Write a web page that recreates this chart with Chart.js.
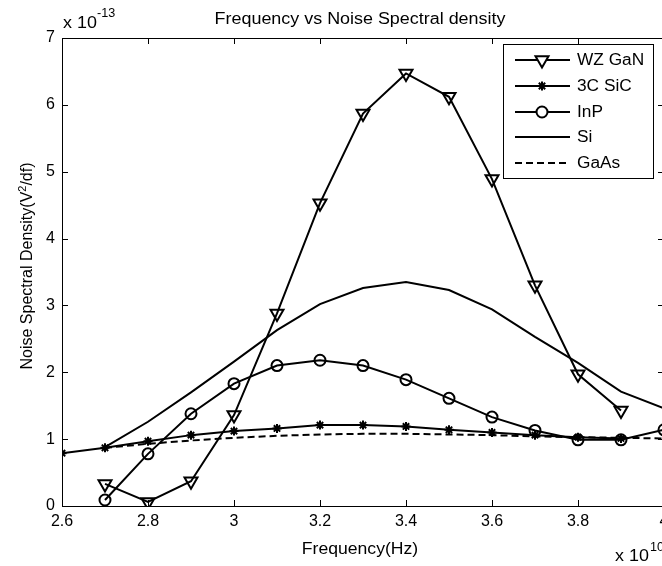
<!DOCTYPE html>
<html lang="en">
<head>
    <meta charset="UTF-8">
    <title>Frequency vs Noise Spectral density</title>
    <style>
        html, body {
            margin: 0;
            padding: 0;
            background: #ffffff;
            overflow: hidden;
        }
        #noiseChart {
            display: block;
        }
    </style>
</head>
<body>
<canvas id="noiseChart" width="680" height="566"></canvas>

<script src="https://cdn.jsdelivr.net/npm/chart.js"></script>
<script>
    // frequency in units of 1e10 Hz, values in units of 1e-13 V^2/df
    const freq = [2.6, 2.7, 2.8, 2.9, 3.0, 3.1, 3.2, 3.3, 3.4, 3.5, 3.6, 3.7, 3.8, 3.9, 4.0];

    const wzGaN = [null, 0.33, 0.06, 0.37, 1.36, 2.88, 4.53, 5.87, 6.47, 6.12, 4.89, 3.30, 1.97, 1.43, null];
    const sic3C = [0.79, 0.87, 0.97, 1.06, 1.12, 1.16, 1.21, 1.21, 1.19, 1.14, 1.10, 1.06, 1.03, 1.01, null];
    const inP = [null, 0.09, 0.78, 1.38, 1.83, 2.10, 2.18, 2.10, 1.89, 1.61, 1.33, 1.13, 0.99, 0.99, 1.14];
    const si = [null, 0.88, 1.26, 1.70, 2.16, 2.63, 3.02, 3.26, 3.35, 3.23, 2.94, 2.53, 2.14, 1.71, 1.46];
    const gaAs = [null, 0.87, 0.93, 0.98, 1.02, 1.05, 1.07, 1.08, 1.08, 1.07, 1.06, 1.04, 1.03, 1.02, 1.01];

    const xTicks = [2.6, 2.8, 3.0, 3.2, 3.4, 3.6, 3.8, 4.0];
    const yTicks = [0, 1, 2, 3, 4, 5, 6, 7];

    const FONT = 'Arial, "Liberation Sans", sans-serif';

    function toPoints(values) {
        return freq.map((f, i) => ({ x: f, y: values[i] })).filter(p => p.y !== null);
    }

    // the original figure text is a bit wider than plain Arial
    function wideText(ctx, str, x, y, size, align, stretch) {
        ctx.save();
        ctx.font = size + 'px ' + FONT;
        const w = ctx.measureText(str).width * stretch;
        let left = x;
        if (align === 'center') left = x - w / 2;
        if (align === 'right') left = x - w;
        ctx.translate(left, y);
        ctx.scale(stretch, 1);
        ctx.textAlign = 'left';
        ctx.fillText(str, 0, 0);
        ctx.restore();
    }

    const clear = 'rgba(0,0,0,0)';
    const series = [
        { label: 'WZ GaN', data: wzGaN, pointStyle: 'triangle', rotation: 180, radius: 7.5, dash: [] },
        { label: '3C SiC', data: sic3C, pointStyle: 'star', rotation: 0, radius: 4.5, dash: [] },
        { label: 'InP', data: inP, pointStyle: 'circle', rotation: 0, radius: 5.5, dash: [] },
        { label: 'Si', data: si, pointStyle: false, rotation: 0, radius: 0, dash: [] },
        { label: 'GaAs', data: gaAs, pointStyle: false, rotation: 0, radius: 0, dash: [7, 4] }
    ];

    // box, inward ticks, texts and legend the way the original figure looks
    const figurePlugin = {
        id: 'figure',
        afterDraw(chart) {
            const ctx = chart.ctx;
            const a = chart.chartArea;
            const xs = chart.scales.x;
            const ys = chart.scales.y;
            ctx.save();
            ctx.strokeStyle = '#000';
            ctx.lineWidth = 1;
            ctx.strokeRect(a.left + 0.5, a.top + 0.5, a.right - a.left, a.bottom - a.top);

            ctx.beginPath();
            xTicks.forEach(v => {
                const px = Math.round(xs.getPixelForValue(v)) + 0.5;
                ctx.moveTo(px, a.bottom); ctx.lineTo(px, a.bottom - 6);
                ctx.moveTo(px, a.top); ctx.lineTo(px, a.top + 6);
            });
            yTicks.forEach(v => {
                const py = Math.round(ys.getPixelForValue(v)) + 0.5;
                ctx.moveTo(a.left, py); ctx.lineTo(a.left + 6, py);
                ctx.moveTo(a.right, py); ctx.lineTo(a.right - 6, py);
            });
            ctx.stroke();

            ctx.fillStyle = '#000';
            ctx.textBaseline = 'alphabetic';
            wideText(ctx, 'Frequency vs Noise Spectral density', 360, 24, 16, 'center', 1.12);
            wideText(ctx, 'Frequency(Hz)', 360, 554, 16, 'center', 1.1);
            wideText(ctx, 'x 10', 63, 28, 16, 'left', 1.12);
            wideText(ctx, 'x 10', 615, 561, 16, 'left', 1.12);
            wideText(ctx, '-13', 97, 17, 12, 'left', 1.05);
            wideText(ctx, '10', 650, 551, 12, 'left', 1.05);

            // rotated y title
            ctx.save();
            ctx.translate(32, 266);
            ctx.rotate(-Math.PI / 2);
            const t1 = 'Noise Spectral Density(V';
            const t2 = '/df)';
            ctx.font = '16px ' + FONT;
            const w1 = ctx.measureText(t1).width;
            const w2 = ctx.measureText(t2).width;
            ctx.font = '11px ' + FONT;
            const wSup = ctx.measureText('2').width;
            const sx = -(w1 + wSup + w2) / 2;
            ctx.textAlign = 'left';
            ctx.font = '16px ' + FONT;
            ctx.fillText(t1, sx, 0);
            ctx.font = '11px ' + FONT;
            ctx.fillText('2', sx + w1, -6);
            ctx.font = '16px ' + FONT;
            ctx.fillText(t2, sx + w1 + wSup, 0);
            ctx.restore();

            // legend
            const box = { x: 503.5, y: 44.5, w: 150, h: 134 };
            ctx.fillStyle = '#fff';
            ctx.fillRect(box.x, box.y, box.w, box.h);
            ctx.strokeStyle = '#000';
            ctx.lineWidth = 1;
            ctx.strokeRect(box.x, box.y, box.w, box.h);
            const rows = [60, 86, 112, 137, 163];
            series.forEach((s, i) => {
                const y = rows[i];
                ctx.save();
                ctx.strokeStyle = '#000';
                ctx.lineWidth = 2;
                ctx.setLineDash(s.dash);
                ctx.beginPath();
                ctx.moveTo(515, y);
                ctx.lineTo(570, y);
                ctx.stroke();
                ctx.restore();
                if (s.pointStyle) {
                    ctx.save();
                    ctx.strokeStyle = '#000';
                    ctx.fillStyle = s.pointStyle === 'star' ? '#000' : '#fff';
                    ctx.lineWidth = 2;
                    Chart.helpers.drawPoint(ctx, {
                        pointStyle: s.pointStyle,
                        rotation: s.rotation,
                        radius: s.radius,
                        borderWidth: 2
                    }, 542, y);
                    ctx.restore();
                }
                ctx.fillStyle = '#000';
                ctx.textBaseline = 'middle';
                wideText(ctx, s.label, 577, y + 1, 16, 'left', 1.08);
            });
            ctx.restore();
        }
    };

    const ctx = document.getElementById('noiseChart').getContext('2d');
    new Chart(ctx, {
        type: 'line',
        data: {
            datasets: series.map(s => ({
                label: s.label,
                data: toPoints(s.data),
                borderColor: '#000',
                borderWidth: 2,
                borderDash: s.dash,
                backgroundColor: clear,
                pointStyle: s.pointStyle,
                pointRotation: s.rotation,
                pointRadius: s.radius,
                pointBorderWidth: 2,
                pointBorderColor: '#000',
                pointBackgroundColor: s.pointStyle === 'star' ? '#000' : clear,
                tension: 0,
                fill: false
            }))
        },
        options: {
            responsive: false,
            animation: false,
            events: [],
            layout: { padding: { left: 0, top: 38, right: 16, bottom: 0 } },
            plugins: {
                legend: { display: false },
                title: { display: false },
                tooltip: { enabled: false }
            },
            scales: {
                x: {
                    type: 'linear',
                    min: 2.6,
                    max: 4.0,
                    grid: { display: false, drawTicks: false },
                    border: { display: false },
                    afterBuildTicks: scale => { scale.ticks = xTicks.map(v => ({ value: v })); },
                    afterFit: scale => { scale.height = 60; },
                    ticks: {
                        color: '#000',
                        padding: 6,
                        maxRotation: 0,
                        font: { family: FONT, size: 16 },
                        callback: v => String(+(+v).toFixed(1))
                    }
                },
                y: {
                    type: 'linear',
                    min: 0,
                    max: 7,
                    grid: { display: false, drawTicks: false },
                    border: { display: false },
                    afterBuildTicks: scale => { scale.ticks = yTicks.map(v => ({ value: v })); },
                    afterFit: scale => { scale.width = 62; },
                    ticks: {
                        color: '#000',
                        padding: 7,
                        font: { family: FONT, size: 16 }
                    }
                }
            }
        },
        plugins: [figurePlugin]
    });
</script>
</body>
</html>
